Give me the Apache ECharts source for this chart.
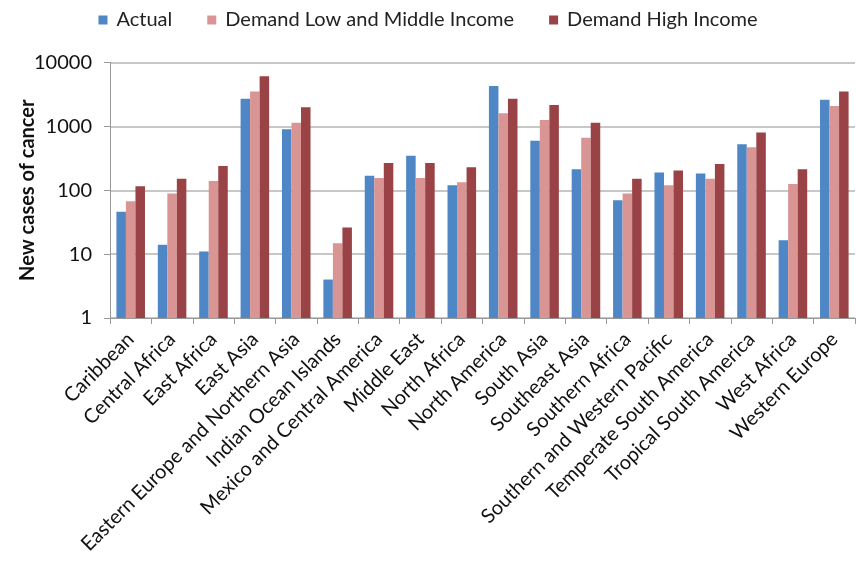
<!DOCTYPE html>
<html><head><meta charset="utf-8">
<script src="https://cdn.jsdelivr.net/npm/echarts@6/dist/echarts.min.js"></script>
<style>html,body{margin:0;padding:0;background:#fff}#c{width:856px;height:561px}</style>
</head><body><div id="c"></div>
<script>
const categories = ["Caribbean","Central Africa","East Africa","East Asia","Eastern Europe and Northern Asia","Indian Ocean Islands","Mexico and Central America","Middle East","North Africa","North America","South Asia","Southeast Asia","Southern Africa","Southern and Western Pacific","Temperate South America","Tropical South America","West Africa","Western Europe"];
const actual = [46, 14, 11, 2710, 900, 4, 168, 346, 120, 4280, 595, 214, 70, 190, 183, 527, 16.5, 2610];
const demandLowMid = [67, 89, 140, 3530, 1140, 14.8, 156, 156, 134, 1600, 1255, 663, 89, 120, 151, 473, 125, 2080];
const demandHigh = [116, 151, 239, 6070, 1985, 26, 266, 266, 230, 2710, 2160, 1140, 151, 204, 257, 805, 214, 3530];
const yTicks = [1, 10, 100, 1000, 10000];

const font = "Lato, 'Liberation Sans', Arial, sans-serif";
const chart = echarts.init(document.getElementById('c'), null, {renderer:'canvas'});
chart.setOption({
  animation:false,
  textStyle:{fontFamily:font},
  legend:{top:5, left:'center', icon:'rect', itemWidth:9, itemHeight:9, itemGap:35,
    textStyle:{fontSize:20, color:'#222', fontFamily:font, padding:[0,0,0,4]},
    data:['Actual','Demand Low and Middle Income','Demand High Income']},
  grid:{left:110, right:1, top:62.5, bottom:243, containLabel:false, outerBoundsMode:'none'},
  xAxis:{type:'category', data:categories,
    axisLine:{lineStyle:{color:'#999'}},
    axisTick:{show:true, interval:0, length:6, lineStyle:{color:'#999'}},
    axisLabel:{interval:0, rotate:45, fontSize:20, color:'#111', margin:18, fontFamily:font}},
  yAxis:{type:'log', logBase:10, min:yTicks[0], max:yTicks[yTicks.length-1],
    name:'New cases of cancer', nameLocation:'middle', nameGap:72, nameRotate:90, nameMoveOverlap:false,
    nameTextStyle:{fontSize:20, fontWeight:'bold', color:'#111', fontFamily:font},
    axisLine:{show:true, lineStyle:{color:'#999'}},
    axisTick:{show:true, length:6, lineStyle:{color:'#999'}},
    splitLine:{lineStyle:{color:'#b4b4b4', width:1.5}},
    axisLabel:{fontSize:20, color:'#111', margin:18, fontFamily:font, formatter:function(v){return String(Math.round(v));}}},
  series:[
    {name:'Actual', type:'bar', data:actual, barGap:'0%', barCategoryGap:'31%', itemStyle:{color:'#4F86C6'}},
    {name:'Demand Low and Middle Income', type:'bar', data:demandLowMid, itemStyle:{color:'#D99594'}},
    {name:'Demand High Income', type:'bar', data:demandHigh, itemStyle:{color:'#994346'}}
  ]
});
</script></body></html>
